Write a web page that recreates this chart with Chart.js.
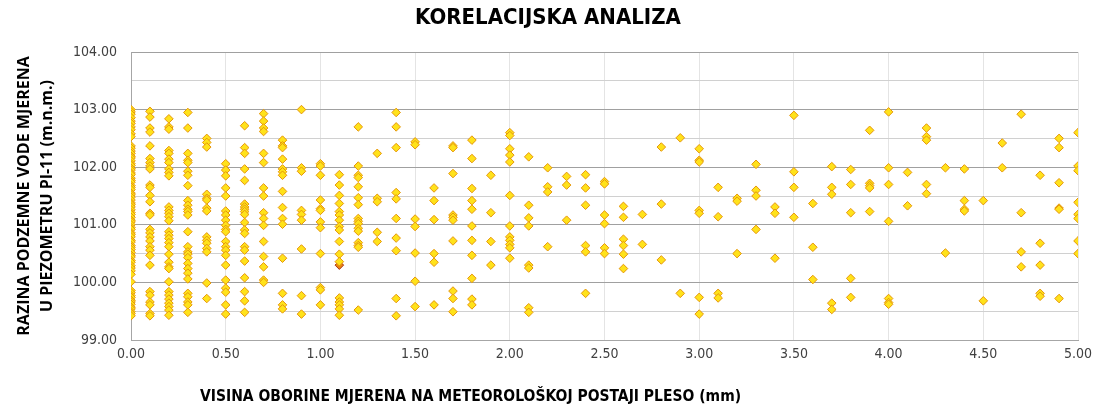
<!DOCTYPE html>
<html>
<head>
<meta charset="utf-8">
<script src="https://cdn.jsdelivr.net/npm/chart.js@4.4.1/dist/chart.umd.min.js"></script>
<style>
  html, body { margin: 0; padding: 0; background: #fff; }
  #wrap { width: 1099px; height: 410px; }
</style>
</head>
<body>
<div id="wrap"><canvas id="chart" width="1099" height="410"></canvas></div>
<script>
const chartTitle = 'KORELACIJSKA ANALIZA';
const xTitle = 'VISINA OBORINE MJERENA NA METEOROLOŠKOJ POSTAJI PLESO (mm)';
const yTitle = ['RAZINA PODZEMNE VODE MJERENA', 'U PIEZOMETRU PI-11 (m.n.m.)'];

// precipitation classes (mm) and groundwater levels read for each class
const precipitation = [0.0, 0.1, 0.2, 0.3, 0.4, 0.5, 0.6, 0.7, 0.8, 0.9,
  1.0, 1.1, 1.2, 1.3, 1.4, 1.5, 1.6, 1.7, 1.8, 1.9,
  2.0, 2.1, 2.2, 2.3, 2.4, 2.5, 2.6, 2.7, 2.8, 2.9,
  3.0, 3.1, 3.2, 3.3, 3.4, 3.5, 3.6, 3.7, 3.8, 3.9,
  4.0, 4.1, 4.2, 4.3, 4.4, 4.5, 4.6, 4.7, 4.8, 4.9, 5.0];

const waterLevel = [
  [103.00, 102.96, 102.92, 102.86, 102.80, 102.76, 102.70, 102.65, 102.58, 102.53,
   102.37, 102.33, 102.28, 102.24, 102.19, 102.16, 102.11, 102.06, 102.03, 101.98,
   101.95, 101.90, 101.87, 101.81, 101.77, 101.74, 101.68, 101.65, 101.61, 101.55,
   101.52, 101.48, 101.43, 101.38, 101.35, 101.31, 101.26, 101.21, 101.18, 101.13,
   101.08, 101.05, 101.00, 100.95, 100.92, 100.86, 100.83, 100.79, 100.73, 100.70,
   100.64, 100.61, 100.57, 100.52, 100.47, 100.44, 100.38, 100.35, 100.29, 100.25,
   100.20, 100.14, 100.01, 99.86, 99.82, 99.77, 99.74, 99.69, 99.66, 99.62,
   99.57, 99.54, 99.49, 99.46, 99.42],
  [102.97, 102.87, 102.68, 102.61, 102.37, 102.15, 102.08, 102.02, 101.97, 101.69,
   101.65, 101.51, 101.40, 101.20, 101.17, 100.92, 100.86, 100.79, 100.72, 100.62,
   100.56, 100.47, 100.30, 99.84, 99.78, 99.66, 99.61, 99.46, 99.42],
  [102.84, 102.70, 102.66, 102.29, 102.24, 102.14, 102.08, 101.97, 101.91, 101.85,
   101.31, 101.25, 101.20, 101.14, 101.07, 100.88, 100.82, 100.76, 100.69, 100.62,
   100.49, 100.35, 100.27, 100.24, 100.01, 99.84, 99.78, 99.71, 99.64, 99.58,
   99.52, 99.43],
  [102.95, 102.68, 102.24, 102.12, 102.08, 101.93, 101.86, 101.68, 101.42, 101.34,
   101.27, 101.23, 101.17, 100.88, 100.62, 100.53, 100.49, 100.43, 100.33, 100.24,
   100.16, 100.06, 99.81, 99.75, 99.66, 99.61, 99.48],
  [102.50, 102.43, 102.35, 101.53, 101.46, 101.43, 101.29, 101.24, 100.79, 100.73,
   100.68, 100.59, 100.53, 99.99, 99.72],
  [102.06, 101.95, 101.85, 101.64, 101.50, 101.24, 101.17, 101.08, 100.99, 100.92,
   100.88, 100.71, 100.62, 100.56, 100.47, 100.30, 100.04, 99.90, 99.83, 99.61, 99.45],
  [102.72, 102.34, 102.24, 101.97, 101.77, 101.36, 101.31, 101.27, 101.23, 101.18,
   101.04, 100.91, 100.85, 100.62, 100.56, 100.37, 100.08, 99.84, 99.68, 99.48],
  [102.93, 102.80, 102.68, 102.62, 102.24, 102.08, 101.64, 101.50, 101.21, 101.11,
   100.99, 100.71, 100.45, 100.27, 100.04, 100.00],
  [102.47, 102.37, 102.34, 102.14, 101.97, 101.92, 101.86, 101.58, 101.30, 101.11,
   101.01, 100.42, 99.81, 99.61, 99.54],
  [103.00, 101.99, 101.93, 101.25, 101.18, 101.08, 100.58, 99.77, 99.45],
  [102.06, 102.02, 101.86, 101.43, 101.28, 101.25, 101.05, 100.95, 100.50, 99.91,
   99.87, 99.61],
  [101.87, 101.69, 101.51, 101.37, 101.23, 101.17, 101.08, 100.97, 100.91, 100.71,
   100.49, 100.36, 99.73, 99.66, 99.61, 99.54, 99.43],
  [102.70, 102.02, 101.86, 101.82, 101.66, 101.47, 101.35, 101.11, 101.06, 101.02,
   100.94, 100.89, 100.69, 100.64, 100.61, 99.52],
  [102.24, 101.46, 101.40, 100.87, 100.71],
  [102.95, 102.70, 102.34, 101.56, 101.45, 101.11, 100.77, 100.55, 99.72, 99.42],
  [102.44, 102.39, 101.10, 100.97, 100.51, 100.02, 99.58],
  [101.64, 101.42, 101.09, 100.50, 100.35, 99.61],
  [102.37, 102.34, 101.89, 101.17, 101.13, 101.08, 100.72, 99.85, 99.72, 99.49],
  [102.47, 102.15, 101.63, 101.42, 101.27, 100.98, 100.73, 100.47, 100.07, 99.71, 99.61],
  [101.86, 101.21, 100.71, 100.30],
  [102.60, 102.55, 102.32, 102.21, 102.09, 101.51, 100.98, 100.79, 100.73, 100.66,
   100.60, 100.42],
  [102.18, 101.34, 101.12, 100.98, 100.30, 100.25, 99.56, 99.48],
  [101.99, 101.66, 101.57, 100.62],
  [101.84, 101.69, 101.08],
  [101.87, 101.64, 101.34, 100.64, 100.53, 99.81],
  [101.75, 101.71, 101.17, 101.02, 100.60, 100.50],
  [101.32, 101.13, 100.75, 100.64, 100.49, 100.24],
  [101.18, 100.66],
  [102.35, 101.36, 100.39],
  [102.51, 99.81],
  [102.32, 102.12, 102.09, 101.25, 101.20, 99.74, 99.45],
  [101.65, 101.14, 99.81, 99.73],
  [101.46, 101.41, 100.50],
  [102.05, 101.60, 101.50, 100.92],
  [101.31, 101.20, 100.42],
  [102.90, 101.92, 101.65, 101.13],
  [101.37, 100.61, 100.05],
  [102.01, 101.65, 101.53, 99.64, 99.53],
  [101.96, 101.70, 101.21, 100.07, 99.74],
  [102.64, 101.72, 101.68, 101.64, 101.23],
  [102.96, 101.99, 101.70, 101.06, 99.72, 99.65, 99.62],
  [101.91, 101.33],
  [102.68, 102.53, 102.47, 101.70, 101.54],
  [101.99, 100.51],
  [101.97, 101.42, 101.27, 101.24],
  [101.42, 99.68],
  [102.42, 101.99],
  [102.92, 101.21, 100.53, 100.27],
  [101.86, 100.68, 100.30, 99.81, 99.76],
  [102.50, 102.34, 101.73, 101.29, 101.27, 99.72],
  [102.60, 102.02, 101.94, 101.39, 101.18, 101.11, 100.72, 100.50]
];

// one point drawn darker in the original
const markedPrecip = [1.1];
const markedLevel = [100.30];

const xTicks = [0, 0.5, 1, 1.5, 2, 2.5, 3, 3.5, 4, 4.5, 5];
const yMin = 99, yMax = 104;

const fontFamily = "'Liberation Sans Narrow', 'DejaVu Sans Condensed', 'Noto Sans', sans-serif";

const points = [];
precipitation.forEach((p, i) => {
  waterLevel[i].forEach(v => points.push({ x: p, y: v }));
});
const marked = markedPrecip.map((p, i) => ({ x: p, y: markedLevel[i] }));

// main title and x-axis title sit off-centre in the original, drawn here
const titlesPlugin = {
  id: 'titles',
  afterDraw(chart) {
    const ctx = chart.ctx;
    ctx.save();
    ctx.fillStyle = '#000';
    ctx.textBaseline = 'middle';
    ctx.textAlign = 'center';
    ctx.font = 'bold 22px ' + fontFamily;
    ctx.fillText(chartTitle, 548, 18);
    ctx.textAlign = 'left';
    ctx.font = 'bold 15.5px ' + fontFamily;
    ctx.fillText(xTitle, 200, 397);
    ctx.restore();
  }
};

new Chart(document.getElementById('chart'), {
  type: 'scatter',
  data: {
    datasets: [
      {
        label: 'mjerenja',
        data: points,
        pointStyle: 'rectRot',
        pointRadius: 4.3,
        pointBackgroundColor: '#FFE21A',
        pointBorderColor: '#E5960B',
        pointBorderWidth: 1
      },
      {
        label: 'oznaceno',
        data: marked,
        pointStyle: 'rectRot',
        pointRadius: 4.3,
        pointBackgroundColor: '#E8860F',
        pointBorderColor: '#A8321A',
        pointBorderWidth: 1
      }
    ]
  },
  options: {
    responsive: false,
    animation: false,
    devicePixelRatio: 1,
    layout: { padding: { left: 0, right: 21, top: 52, bottom: 0 } },
    plugins: {
      legend: { display: false },
      tooltip: { enabled: false },
      title: { display: false }
    },
    scales: {
      x: {
        type: 'linear',
        min: 0,
        max: 5,
        afterFit: s => { s.height = 70; },
        afterBuildTicks: s => { s.ticks = xTicks.map(v => ({ value: v })); },
        grid: { color: '#E4E4E4', drawTicks: false },
        border: { color: '#A6A6A6' },
        ticks: {
          color: '#404040',
          padding: 6,
          font: { family: fontFamily, size: 14 },
          callback: v => Number(v).toFixed(2)
        }
      },
      y: {
        min: yMin,
        max: yMax,
        afterFit: s => { s.width = 131; },
        grid: {
          drawTicks: false,
          color: ctx => (ctx.tick && Number.isInteger(ctx.tick.value)) ? '#A0A0A0' : '#D0D0D0'
        },
        border: { color: '#A6A6A6' },
        ticks: {
          stepSize: 0.5,
          color: '#404040',
          padding: 14,
          font: { family: fontFamily, size: 14 },
          callback: v => Number.isInteger(v) ? v.toFixed(2) : ''
        },
        title: {
          display: true,
          text: yTitle,
          color: '#000',
          font: { family: "'Open Sans', 'Noto Sans', sans-serif", size: 16, weight: 'bold', lineHeight: 1.45 },
          padding: { top: 13, bottom: 0 }
        }
      }
    }
  },
  plugins: [titlesPlugin]
});
</script>
</body>
</html>
